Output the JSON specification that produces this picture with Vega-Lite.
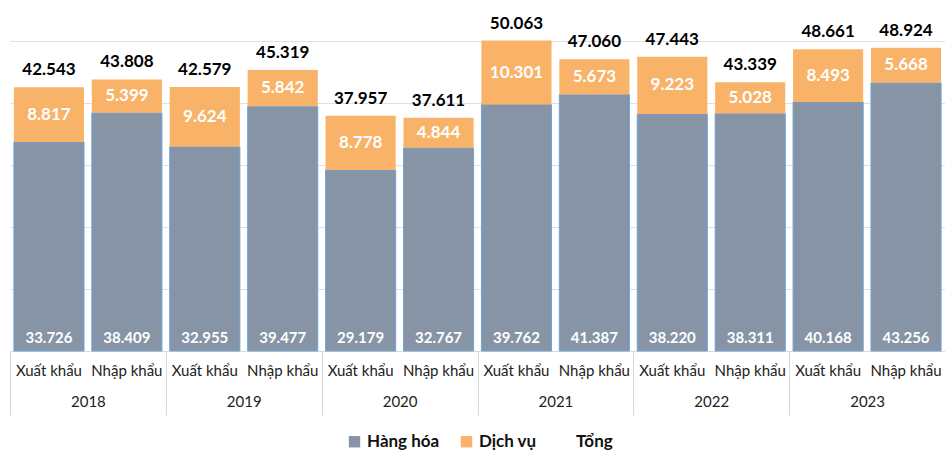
{
  "$schema": "https://vega.github.io/schema/vega-lite/v6.json",
  "width": 935,
  "height": 310,
  "autosize": {"type": "none"},
  "padding": {"left": 10, "top": 41, "right": 0, "bottom": 99},
  "background": "white",
  "config": {"view": {"stroke": null}, "font": "Lato"},
  "data": {"values": [
    {"year": "2018", "type": "Xuất khẩu", "hh": 33.726, "dv": 8.817, "total": 42.543},
    {"year": "2018", "type": "Nhập khẩu", "hh": 38.409, "dv": 5.399, "total": 43.808},
    {"year": "2019", "type": "Xuất khẩu", "hh": 32.955, "dv": 9.624, "total": 42.579},
    {"year": "2019", "type": "Nhập khẩu", "hh": 39.477, "dv": 5.842, "total": 45.319},
    {"year": "2020", "type": "Xuất khẩu", "hh": 29.179, "dv": 8.778, "total": 37.957},
    {"year": "2020", "type": "Nhập khẩu", "hh": 32.767, "dv": 4.844, "total": 37.611},
    {"year": "2021", "type": "Xuất khẩu", "hh": 39.762, "dv": 10.301, "total": 50.063},
    {"year": "2021", "type": "Nhập khẩu", "hh": 41.387, "dv": 5.673, "total": 47.060},
    {"year": "2022", "type": "Xuất khẩu", "hh": 38.220, "dv": 9.223, "total": 47.443},
    {"year": "2022", "type": "Nhập khẩu", "hh": 38.311, "dv": 5.028, "total": 43.339},
    {"year": "2023", "type": "Xuất khẩu", "hh": 40.168, "dv": 8.493, "total": 48.661},
    {"year": "2023", "type": "Nhập khẩu", "hh": 43.256, "dv": 5.668, "total": 48.924}
  ]},
  "transform": [{"calculate": "datum.hh + datum.dv / 2", "as": "mid"}],
  "encoding": {
    "x": {
      "field": "year", "type": "nominal", "title": null,
      "scale": {"paddingInner": 0, "paddingOuter": 0},
      "axis": {
        "labelAngle": 0, "domain": true, "domainColor": "#d9d9d9",
        "ticks": true, "tickBand": "extent", "tickSize": 64, "tickColor": "#d9d9d9",
        "labelPadding": -21, "labelFontSize": 15, "labelColor": "#222222",
        "labelFont": "Lato", "grid": false
      }
    },
    "xOffset": {
      "field": "type", "type": "nominal", "sort": ["Xuất khẩu", "Nhập khẩu"],
      "scale": {"paddingInner": 0.1, "paddingOuter": 0.05}
    }
  },
  "layer": [
    {
      "mark": {"type": "bar", "stroke": "#6ea6d8", "strokeWidth": 1},
      "encoding": {
        "y": {
          "field": "hh", "type": "quantitative", "title": null,
          "scale": {"domain": [0, 50], "nice": false},
          "axis": {"values": [0, 10, 20, 30, 40, 50], "labels": false, "ticks": false, "domain": false, "grid": true, "gridColor": "#e0e0e0", "title": null}
        },
        "color": {
          "datum": "Hàng hóa", "type": "nominal",
          "scale": {"domain": ["Hàng hóa", "Dịch vụ", "Tổng"], "range": ["#8794a6", "#f8b369", "rgba(255,255,255,0)"]},
          "legend": {
            "title": null, "orient": "none", "legendX": 336, "legendY": 392,
            "direction": "horizontal", "symbolType": "square", "symbolSize": 130,
            "labelFont": "Lato", "labelFontSize": 17, "labelFontWeight": "bold",
            "labelColor": "#111111", "columnPadding": 18, "labelOffset": 4,
            "symbolStrokeWidth": 0, "symbolStrokeColor": "transparent"
          }
        }
      }
    },
    {
      "mark": {"type": "bar"},
      "encoding": {
        "y": {"field": "hh", "type": "quantitative", "title": null},
        "y2": {"field": "total"},
        "color": {"datum": "Dịch vụ", "type": "nominal"}
      }
    },
    {
      "mark": {"type": "text", "color": "white", "fontWeight": "bold", "fontSize": 15, "font": "Lato", "baseline": "middle", "dy": -13},
      "encoding": {
        "y": {"datum": 0, "type": "quantitative"},
        "text": {"field": "hh", "type": "quantitative", "format": ".3f"}
      }
    },
    {
      "mark": {"type": "text", "color": "white", "fontWeight": "bold", "fontSize": 17, "font": "Lato", "baseline": "middle"},
      "encoding": {
        "y": {"field": "mid", "type": "quantitative", "title": null},
        "text": {"field": "dv", "type": "quantitative", "format": ".3f"}
      }
    },
    {
      "mark": {"type": "text", "color": "black", "fontWeight": "bold", "fontSize": 17, "font": "Lato", "baseline": "bottom", "dy": -8},
      "encoding": {
        "y": {"field": "total", "type": "quantitative", "title": null},
        "text": {"field": "total", "type": "quantitative", "format": ".3f"}
      }
    },
    {
      "mark": {"type": "text", "color": "#222222", "fontSize": 15, "font": "Lato", "baseline": "middle", "dy": 20},
      "encoding": {
        "y": {"datum": 0, "type": "quantitative"},
        "text": {"field": "type", "type": "nominal"}
      }
    }
  ]
}
